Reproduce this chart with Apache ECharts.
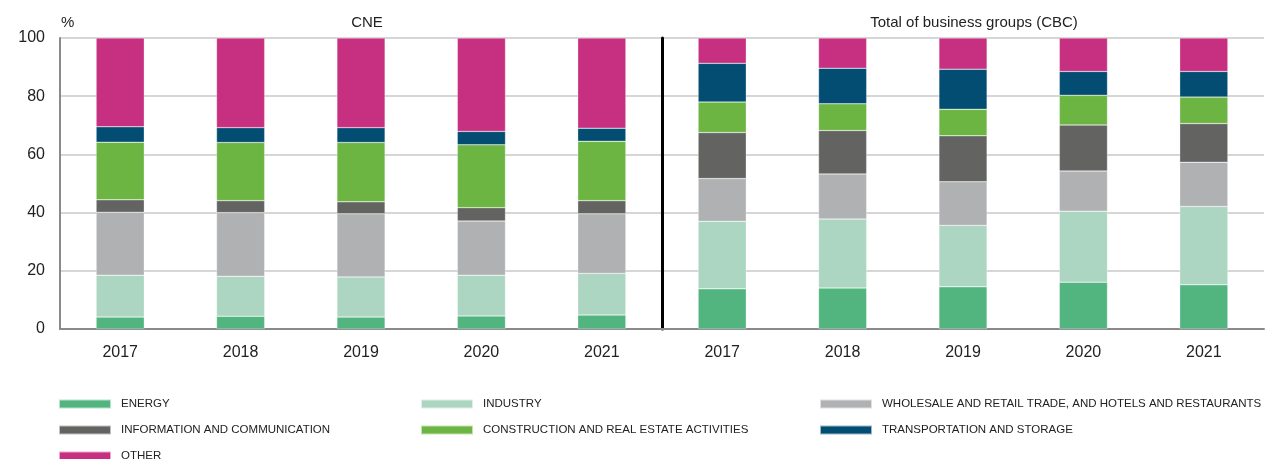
<!DOCTYPE html>
<html><head><meta charset="utf-8">
<script src="https://cdn.jsdelivr.net/npm/echarts@6/dist/echarts.min.js"></script>
<style>html,body{margin:0;padding:0;background:#fff}#c{width:1268px;height:459px}</style>
</head><body><div id="c"></div>
<script>
const years = ['2017','2018','2019','2020','2021'];
const seriesNames = ['ENERGY','INDUSTRY','WHOLESALE AND RETAIL TRADE, AND HOTELS AND RESTAURANTS','INFORMATION AND COMMUNICATION','CONSTRUCTION AND REAL ESTATE ACTIVITIES','TRANSPORTATION AND STORAGE','OTHER'];
const colors = ['#52b580','#acd6c1','#b0b1b3','#636461','#6db543','#034c72','#c72f80'];
const yTicks = [0,20,40,60,80,100];
// CNE
const cneEnergy = [4.1,4.4,4.1,4.5,4.8];
const cneIndustry = [14.4,13.7,13.8,14.0,14.3];
const cneWholesale = [21.6,21.9,21.7,18.6,20.5];
const cneInfo = [4.3,4.1,4.1,4.6,4.5];
const cneConstruction = [19.8,20.0,20.4,21.6,20.4];
const cneTransport = [5.3,5.1,5.1,4.6,4.5];
const cneOther = [30.5,30.8,30.8,32.1,31.0];
// CBC
const cbcEnergy = [13.8,14.1,14.5,16.1,15.2];
const cbcIndustry = [23.2,23.7,21.1,24.4,26.9];
const cbcWholesale = [14.7,15.5,15.0,13.8,15.2];
const cbcInfo = [15.8,14.9,15.8,15.8,13.3];
const cbcConstruction = [10.5,9.2,9.1,10.2,9.1];
const cbcTransport = [13.3,12.2,13.8,8.2,8.8];
const cbcOther = [8.7,10.4,10.7,11.5,11.5];

const cne = [cneEnergy,cneIndustry,cneWholesale,cneInfo,cneConstruction,cneTransport,cneOther];
const cbc = [cbcEnergy,cbcIndustry,cbcWholesale,cbcInfo,cbcConstruction,cbcTransport,cbcOther];

const LFONT = 'Liberation Sans, Arial, sans-serif';

function xAxis(gi){
  return {type:'category', gridIndex:gi, data:years,
    axisLine:{lineStyle:{color:'#8a8a8a', width:2}},
    axisTick:{inside:true, length:5, lineStyle:{color:'#8a8a8a', width:1}},
    axisLabel:{fontSize:16, color:'#222', margin:16, fontFamily:LFONT}};
}
function yAxis(gi, show){
  return {type:'value', gridIndex:gi, min:yTicks[0], max:yTicks[yTicks.length-1], interval:20,
    axisLine:{show:true, lineStyle:{color: show ? '#8a8a8a' : '#000', width: show ? 2 : 3}},
    axisTick:{show:false},
    axisLabel:{show:show, fontSize:16, color:'#222', margin:15, fontFamily:LFONT},
    splitLine:{lineStyle:{color:'#c8c8c8', width:1.5}}};
}
const series = [];
[cne, cbc].forEach((set, gi) => {
  set.forEach((vals, i) => {
    series.push({name:seriesNames[i], type:'bar', stack:'s'+gi, xAxisIndex:gi, yAxisIndex:gi,
      data:vals, barWidth:'40%', itemStyle:{color:colors[i], borderColor:'rgba(255,255,255,0.6)', borderWidth:0.5}, z: gi===1?1:2});
  });
});
function legend(left, names){
  return {left:left, top:398, height:80, padding:0, orient:'vertical', itemWidth:52, itemHeight:9, itemGap:14,
    icon:'rect', data:names,
    textStyle:{fontSize:11.5, color:'#222', fontFamily:LFONT, padding:[0,0,0,5]}};
}
const tStyle = {fontSize:15, fontWeight:'normal', color:'#222', fontFamily:LFONT};
const option = {
  animation:false,
  color:colors,
  title:[
    {text:'%', left:56, top:10, textStyle:tStyle},
    {text:'CNE', left:362, top:10, textAlign:'center', textStyle:tStyle},
    {text:'Total of business groups (CBC)', left:969, top:10, textAlign:'center', textStyle:tStyle}
  ],
  grid:[
    {left:60, width:602, top:38, height:291},
    {left:662, width:602, top:38, height:291}
  ],
  xAxis:[xAxis(0), xAxis(1)],
  yAxis:[yAxis(0,true), yAxis(1,false)],
  legend:[
    legend(58, [seriesNames[0], seriesNames[3], seriesNames[6]]),
    legend(420, [seriesNames[1], seriesNames[4]]),
    legend(819, [seriesNames[2], seriesNames[5]])
  ],
  series:series
};
echarts.init(document.getElementById('c')).setOption(option);
</script></body></html>
